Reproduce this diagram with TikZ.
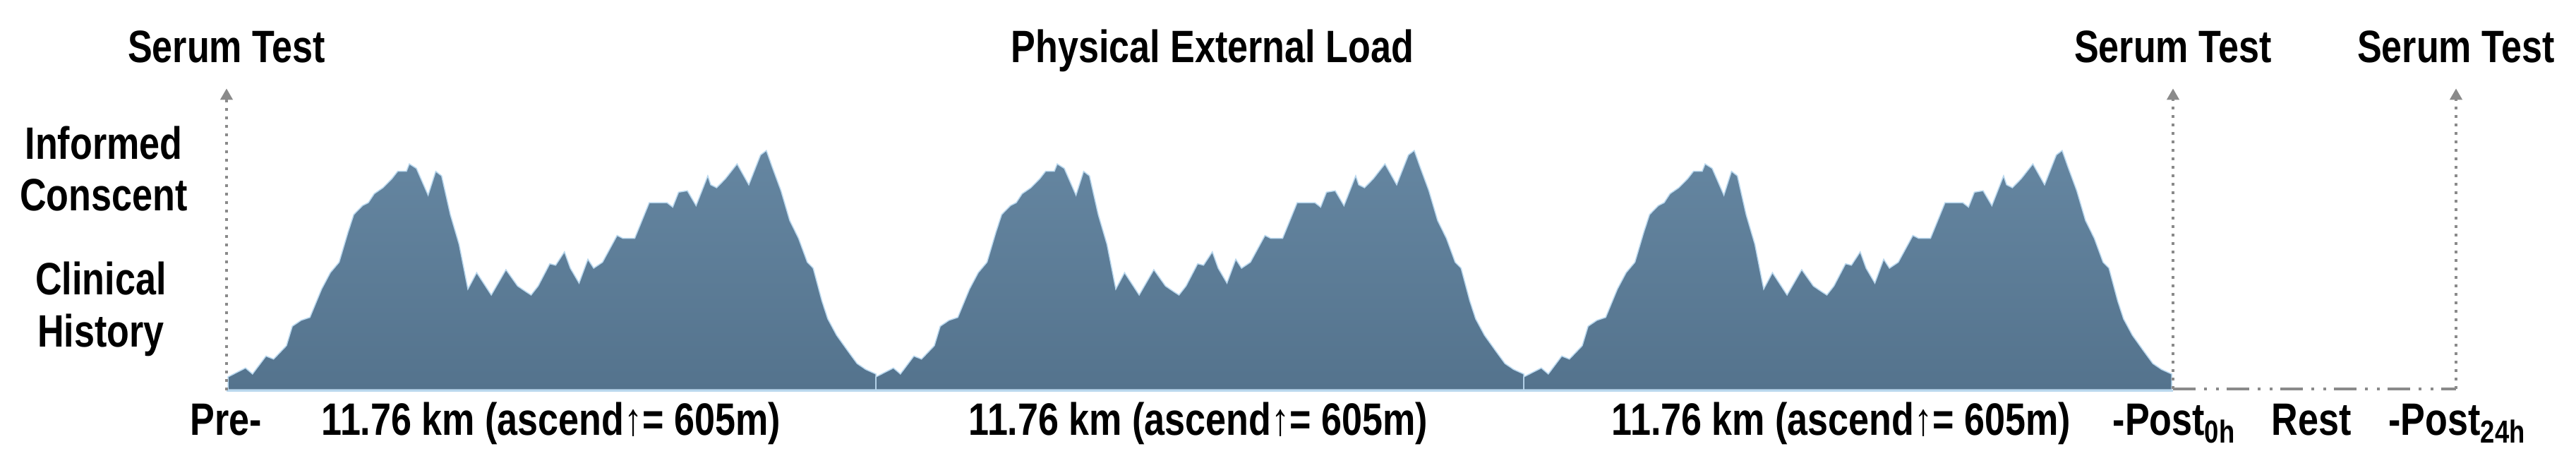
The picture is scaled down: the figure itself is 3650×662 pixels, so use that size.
\documentclass[tikz,border=0pt]{standalone}
\usepackage{fontspec}
\setmainfont[FakeStretch=0.81]{Liberation Sans}
\usepackage{xcolor}
\usepackage{tikz}
\usetikzlibrary{arrows.meta,positioning,calc}
\definecolor{hilltop}{RGB}{101,134,161}
\definecolor{hillbot}{RGB}{84,115,141}
\definecolor{hilledge}{RGB}{186,216,238}
\definecolor{tgray}{RGB}{138,138,138}

\begin{document}
\begin{tikzpicture}[x=0.1mm,y=-0.1mm,
  lbl/.style={font=\fontsize{18.3}{21.05}\selectfont\bfseries,inner sep=0pt,align=center},
  hill/.style={draw=hilledge,line width=0.15mm,top color=hilltop,bottom color=hillbot},
  arr/.style={-{Triangle[width=1.7mm,length=1.6mm]},tgray,line width=0.45mm,dash pattern=on 0.45mm off 0.75mm,shorten >=3.6mm},
  restline/.style={tgray,line width=0.4mm,dash pattern=on 3.2mm off 1.2mm on 0.4mm off 1.3mm on 0.4mm off 1.1mm}]
\useasboundingbox (0,0) rectangle (3650,662);
% three laps of the same elevation profile
\foreach \sx in {323,1241,2159}
  \path[hill,shift={(\sx,0)}] (0,534) -- (16.6,525.5) -- (24.9,521.3) -- (34.8,529.8) -- (53.9,504.4)
    -- (64.7,508.7) -- (82.9,489.7) -- (91.2,462.2) -- (103.6,453.8) -- (116.1,449.6) -- (132.7,409.5)
    -- (145.1,386.2) -- (157.5,371.5) -- (170,329.3) -- (178.3,303.9) -- (190.7,291.3) -- (199,287)
    -- (207.3,274.4) -- (219.7,265.9) -- (232.2,253.3) -- (240.5,242.7) -- (252.9,242.7) -- (257,232.2)
    -- (267,238.5) -- (283.6,276.5) -- (294.4,242.7) -- (302.7,249.1) -- (315.1,303.9) -- (327.5,346.1)
    -- (340,409.5) -- (352.4,386.2) -- (373.1,417.9) -- (393.9,382) -- (410.4,405.2) -- (422.9,413.7)
    -- (429.5,417.9) -- (439.5,405.2) -- (456,373.6) -- (464.3,375.7) -- (476.8,356.7) -- (485.1,379.9)
    -- (497.5,401) -- (510,367.2) -- (518.2,379.9) -- (530.7,371.5) -- (551.4,333.5) -- (559.7,337.7)
    -- (576.3,337.7) -- (597,287) -- (621.9,287) -- (630.2,293.4) -- (638.5,272.3) -- (650.9,270.2)
    -- (663.3,291.3) -- (679.9,249.1) -- (684.1,261.7) -- (692.4,265.9) -- (704.8,253.3) -- (721.4,232.2)
    -- (738,261.7) -- (754.6,219.5) -- (762.9,213.2) -- (771.1,236.4) -- (783.6,270.2) -- (796,312.4)
    -- (808.5,337.7) -- (820.9,371.5) -- (829.2,379.9) -- (841.6,426.3) -- (849.9,451.7) -- (862.4,474.9)
    -- (879,498.1) -- (891.4,515) -- (903.8,523.4) -- (918,529.8) -- (918,552) -- (0,552) -- cycle;
\coordinate (pre) at (321,553);
\coordinate (post0) at (3079,551);
\coordinate (post24) at (3480,551);
\draw[hilledge,line width=0.3mm] (pre) -- (3079,553);
% labels
\node[lbl,anchor=base] (serum1) at (321,88) {Serum Test};
\node[lbl,anchor=base] (serum2) at (3079,88) {Serum Test};
\node[lbl,anchor=base] (serum3) at (3480,88) {Serum Test};
\node[lbl,anchor=base] (load) at (1718,88) {Physical External Load};
\node[lbl] (consent) at (147,239) {Informed\\Conscent};
\node[lbl] (history) at (143,438) {Clinical\\History};
\node[lbl,anchor=base] (prelbl) at (320,616) {Pre-};
\node[lbl,anchor=base] (lap1) at (781,616) {11.76 km (ascend↑= 605m)};
\node[lbl,anchor=base] (lap2) at (1698,616) {11.76 km (ascend↑= 605m)};
\node[lbl,anchor=base] (lap3) at (2609,616) {11.76 km (ascend↑= 605m)};
\node[lbl,anchor=base] (postlbl0) at (3081,616) {-Post\textsubscript{0h}};
\node[lbl,anchor=base] (rest) at (3275,616) {Rest};
\node[lbl,anchor=base] (postlbl24) at (3482,616) {-Post\textsubscript{24h}};
% sampling times
\draw[arr] (pre) -- (serum1.south);
\draw[arr] (post0) -- (serum2.south);
\draw[arr] (post24) -- (serum3.south);
\draw[restline] (post0) -- (post24);
\end{tikzpicture}
\end{document}
